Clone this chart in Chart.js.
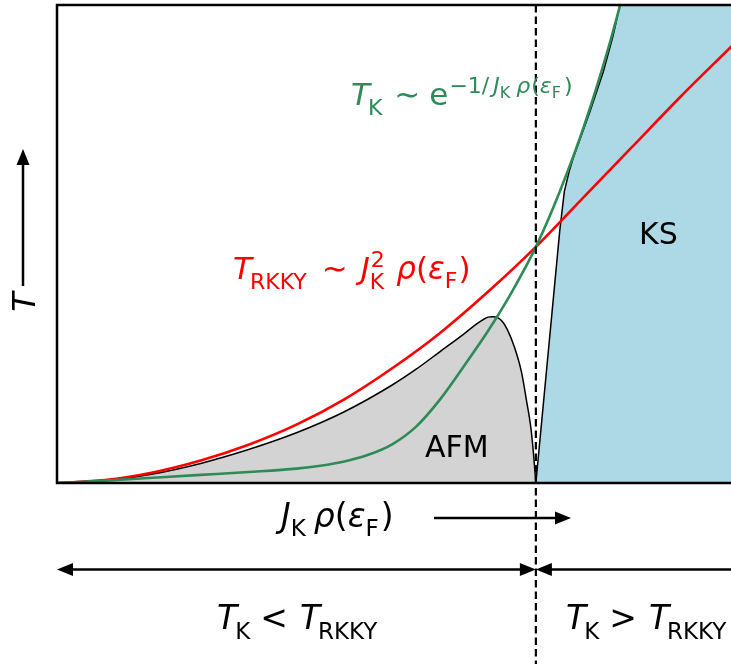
<!DOCTYPE html>
<html>
<head>
<meta charset="utf-8">
<script src="https://cdn.jsdelivr.net/npm/chart.js@4/dist/chart.umd.min.js"></script>
<style>
    html, body { margin: 0; padding: 0; background: #fff; overflow: hidden; }
    canvas { display: block; }
</style>
</head>
<body>
<canvas id="doniach" width="731" height="664"></canvas>
<script>
// coupling J_K rho(eps_F), normalised so the two scales cross at 1
const rkkyJ = [0, 0.1, 0.2, 0.3, 0.4, 0.5, 0.6, 0.7, 0.8, 0.9, 1.0, 1.1, 1.2, 1.3, 1.41];
const rkkyT = [0, 0.006, 0.022, 0.047, 0.08, 0.122, 0.175, 0.24, 0.314, 0.4, 0.494, 0.598, 0.702, 0.806, 0.915];

const kondoJ = [0, 0.1, 0.2, 0.3, 0.4, 0.5, 0.55, 0.6, 0.65, 0.7, 0.75, 0.8, 0.85, 0.9, 0.95, 1.0, 1.05, 1.1, 1.15, 1.2];
const kondoT = [0, 0.005, 0.011, 0.017, 0.023, 0.03, 0.036, 0.045, 0.059, 0.081, 0.118, 0.175, 0.245, 0.318, 0.4, 0.494, 0.61, 0.745, 0.905, 1.09];

const afmJ = [0, 0.1, 0.2, 0.3, 0.4, 0.5, 0.6, 0.7, 0.75, 0.8, 0.85, 0.875, 0.89, 0.9, 0.91, 0.92, 0.93, 0.94, 0.955, 0.97, 0.98, 0.99, 0.996, 1.0];
const afmT = [0, 0.005, 0.019, 0.041, 0.07, 0.105, 0.149, 0.205, 0.238, 0.275, 0.312, 0.332, 0.342, 0.347, 0.348, 0.346, 0.338, 0.322, 0.285, 0.232, 0.175, 0.112, 0.05, 0];

const ksJ = [1.0, 1.05, 1.0595, 1.0696, 1.078, 1.113, 1.141, 1.1616, 1.1755, 1.19, 1.45];
const ksT = [0, 0.529, 0.61, 0.652, 0.68, 0.777, 0.861, 0.937, 1.0, 1.05, 1.05];

const jMax = 1.4075;
const crossJ = 1.0;

const toPoints = (xs, ys) => xs.map((x, i) => ({ x, y: ys[i] }));

const FAMILY = '"DejaVu Sans"';
const it = (s) => `italic ${s}px ${FAMILY}`;
const up = (s) => `${s}px ${FAMILY}`;

// draws a run of text pieces left to right; dy shifts a piece off the baseline,
// keep leaves the pen where it was (for stacked super/subscripts)
const drawRuns = (ctx, x, y, runs, color) => {
    ctx.save();
    ctx.fillStyle = color;
    ctx.textAlign = "left";
    ctx.textBaseline = "alphabetic";
    let pen = x;
    runs.forEach((r) => {
        pen += r.gap || 0;
        ctx.font = r.f;
        ctx.fillText(r.t, pen, y + (r.dy || 0));
        if (!r.keep) {
            pen += ctx.measureText(r.t).width;
        }
    });
    ctx.restore();
};

const arrowHead = (ctx, tipX, tipY, dirX, dirY, len = 16, half = 6.5) => {
    const bx = tipX - dirX * len;
    const by = tipY - dirY * len;
    ctx.beginPath();
    ctx.moveTo(tipX, tipY);
    ctx.lineTo(bx - dirY * half, by + dirX * half);
    ctx.lineTo(bx + dirY * half, by - dirX * half);
    ctx.closePath();
    ctx.fill();
};

const overlay = {
    id: "doniach-overlay",
    afterDatasetsDraw(chart) {
        const { ctx, chartArea: a, scales: { x } } = chart;
        const xc = x.getPixelForValue(crossJ);
        ctx.save();

        // frame: left, top and bottom edges
        ctx.strokeStyle = "#000";
        ctx.lineWidth = 2.5;
        ctx.beginPath();
        ctx.moveTo(a.right + 2, a.top);
        ctx.lineTo(a.left, a.top);
        ctx.lineTo(a.left, a.bottom);
        ctx.lineTo(a.right + 2, a.bottom);
        ctx.stroke();

        // dashed line where T_K = T_RKKY
        ctx.lineWidth = 2.2;
        ctx.setLineDash([7.5, 4]);
        ctx.beginPath();
        ctx.moveTo(xc, a.top);
        ctx.lineTo(xc, chart.height);
        ctx.stroke();
        ctx.setLineDash([]);
        ctx.restore();
    },
    afterDraw(chart) {
        const { ctx, chartArea: a, scales: { x } } = chart;
        const xc = x.getPixelForValue(crossJ);
        ctx.save();
        ctx.strokeStyle = "#000";
        ctx.fillStyle = "#000";
        ctx.lineWidth = 2.5;

        // temperature arrow on the left
        ctx.beginPath();
        ctx.moveTo(23, 286);
        ctx.lineTo(23, 160);
        ctx.stroke();
        arrowHead(ctx, 23, 149, 0, -1);

        ctx.save();
        ctx.translate(35, 302);
        ctx.rotate(-Math.PI / 2);
        ctx.font = it(32);
        ctx.textAlign = "center";
        ctx.fillText("T", 0, 0);
        ctx.restore();

        // coupling arrow under the axis
        ctx.beginPath();
        ctx.moveTo(434, 518);
        ctx.lineTo(560, 518);
        ctx.stroke();
        arrowHead(ctx, 571, 518, 1, 0);

        // regime arrows meeting at the crossover
        const ya = 569.5;
        ctx.beginPath();
        ctx.moveTo(a.left + 10, ya);
        ctx.lineTo(xc - 10, ya);
        ctx.moveTo(xc + 10, ya);
        ctx.lineTo(chart.width + 2, ya);
        ctx.stroke();
        arrowHead(ctx, a.left, ya, -1, 0);
        arrowHead(ctx, xc, ya, 1, 0);
        arrowHead(ctx, xc, ya, -1, 0);
        ctx.restore();

        // region names
        drawRuns(ctx, 425, 457, [{ t: "AFM", f: up(30) }], "#000");
        drawRuns(ctx, 639, 244, [{ t: "KS", f: up(30) }], "#000");

        drawRuns(ctx, 351, 105, [
            { t: "T", f: it(31) },
            { t: "K", f: up(22), dy: 10, gap: -2 },
            { t: "∼", f: up(31), gap: 12 },
            { t: "e", f: up(31), gap: 9 },
            { t: "−1/", f: up(22), dy: -12, gap: 1 },
            { t: "J", f: it(22), dy: -12, gap: 4 },
            { t: "K", f: up(16), dy: -7 },
            { t: "ρ", f: it(22), dy: -12, gap: 6 },
            { t: "(", f: up(22), dy: -12, gap: 1 },
            { t: "ε", f: it(22), dy: -12 },
            { t: "F", f: up(16), dy: -7 },
            { t: ")", f: up(22), dy: -12, gap: 3 },
        ], "#2e8b57");

        drawRuns(ctx, 233, 279, [
            { t: "T", f: it(31) },
            { t: "RKKY", f: up(22), dy: 10, gap: -2 },
            { t: "∼", f: up(31), gap: 15 },
            { t: "J", f: it(31), gap: 13 },
            { t: "2", f: up(22), dy: -12, gap: 1, keep: true },
            { t: "K", f: up(22), dy: 10, gap: -1 },
            { t: "ρ", f: it(31), gap: 12 },
            { t: "(", f: up(31) },
            { t: "ε", f: it(31) },
            { t: "F", f: up(22), dy: 9 },
            { t: ")", f: up(31), gap: 1 },
        ], "#ff0000");

        drawRuns(ctx, 281, 527, [
            { t: "J", f: it(33) },
            { t: "K", f: up(23), dy: 9 },
            { t: "ρ", f: it(33), gap: 8 },
            { t: "(", f: up(33) },
            { t: "ε", f: it(33) },
            { t: "F", f: up(23), dy: 9 },
            { t: ")", f: up(33), gap: 2 },
        ], "#000");

        const regime = (x0, op) => drawRuns(ctx, x0, 629, [
            { t: "T", f: it(33) },
            { t: "K", f: up(23), dy: 10, gap: -2 },
            { t: op, f: up(33), gap: 10 },
            { t: "T", f: it(33), gap: 12 },
            { t: "RKKY", f: up(23), dy: 10, gap: -2 },
        ], "#000");
        regime(217, "<");
        regime(566, ">");
    },
};

new Chart(document.getElementById("doniach"), {
    type: "line",
    data: {
        datasets: [
            {
                data: toPoints(kondoJ, kondoT),
                borderColor: "#2e8b57",
                borderWidth: 2.6,
                cubicInterpolationMode: "monotone",
                pointRadius: 0,
                fill: false,
            },
            {
                data: toPoints(rkkyJ, rkkyT),
                borderColor: "#ff0000",
                borderWidth: 2.6,
                cubicInterpolationMode: "monotone",
                pointRadius: 0,
                fill: false,
            },
            {
                // Kondo singlet region
                data: toPoints(ksJ, ksT),
                borderColor: "#000",
                borderWidth: 1.5,
                tension: 0,
                pointRadius: 0,
                fill: "origin",
                backgroundColor: "#add8e6",
            },
            {
                // antiferromagnetic dome
                data: toPoints(afmJ, afmT),
                borderColor: "#000",
                borderWidth: 1.5,
                cubicInterpolationMode: "monotone",
                pointRadius: 0,
                fill: "origin",
                backgroundColor: "#d3d3d3",
            },
        ],
    },
    options: {
        responsive: false,
        animation: false,
        devicePixelRatio: 1,
        layout: { padding: { left: 57, top: 5, right: 0, bottom: 181 } },
        plugins: {
            legend: { display: false },
            tooltip: { enabled: false },
        },
        scales: {
            x: { type: "linear", min: 0, max: jMax, display: false },
            y: { type: "linear", min: 0, max: 1, display: false },
        },
    },
    plugins: [overlay],
});
</script>
</body>
</html>
